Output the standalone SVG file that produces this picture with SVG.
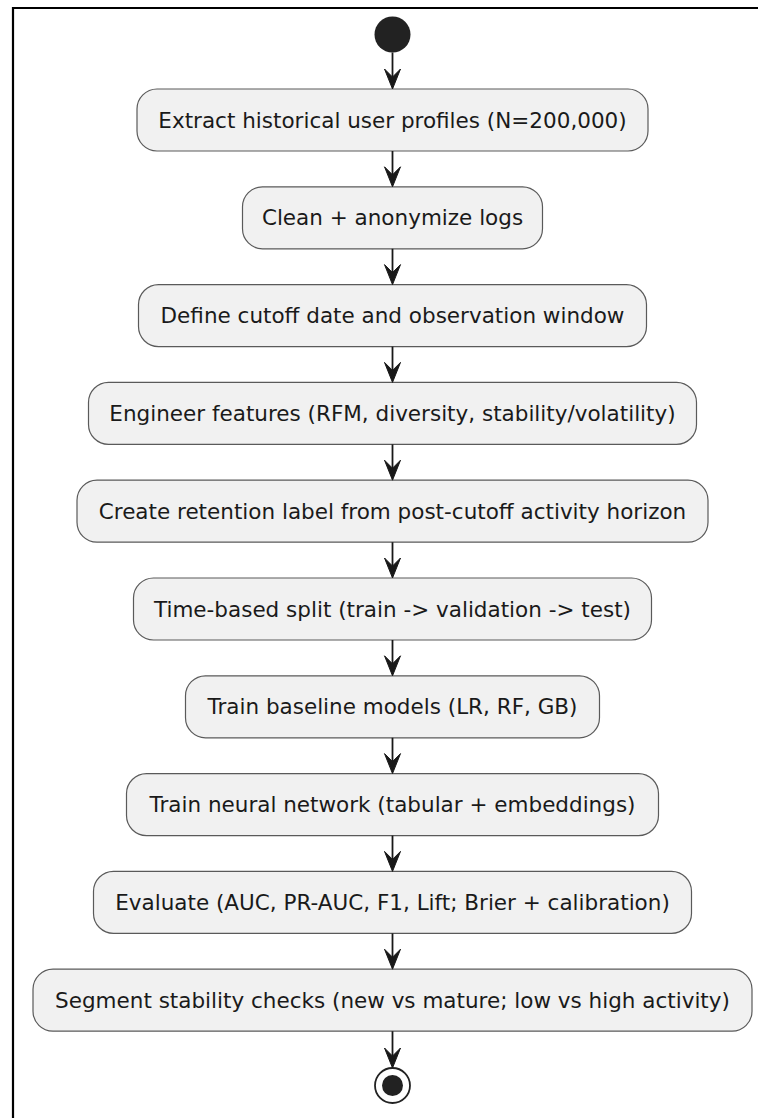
<svg xmlns="http://www.w3.org/2000/svg" width="758" height="1118" viewBox="0 0 758 1118">
<style>
.box{fill:#F1F1F1;stroke:#5a5a5a;stroke-width:1.2;}
.lbl{font-family:"DejaVu Sans",sans-serif;font-size:21.5px;fill:#1a1a1a;text-anchor:middle;}
.edge{stroke:#181818;stroke-width:1.8;fill:none;}
.head{fill:#181818;stroke:#181818;stroke-width:1;}
</style>
<defs>
<polygon id="ah" class="head" points="0,0 -8,-20 0,-12 8,-20"/>
</defs>
<rect width="758" height="1118" fill="#fff"/>
<path d="M13,1118 V8 H758" fill="none" stroke="#000" stroke-width="2.2"/>
<g id="start"><circle cx="392.5" cy="34.5" r="18" fill="#222"/></g>
<g id="n1"><rect class="box" x="137" y="89" width="511" height="62" rx="20"/><text class="lbl" x="392.5" y="127.5">Extract historical user profiles (N=200,000)</text></g>
<g id="n2"><rect class="box" x="242.5" y="186.8" width="300" height="62" rx="20"/><text class="lbl" x="392.5" y="225.3">Clean + anonymize logs</text></g>
<g id="n3"><rect class="box" x="138.5" y="284.6" width="508" height="62" rx="20"/><text class="lbl" x="392.5" y="323.1">Define cutoff date and observation window</text></g>
<g id="n4"><rect class="box" x="88.5" y="382.4" width="608" height="62" rx="20"/><text class="lbl" x="392.5" y="420.9">Engineer features (RFM, diversity, stability/volatility)</text></g>
<g id="n5"><rect class="box" x="77" y="480.2" width="631" height="62" rx="20"/><text class="lbl" x="392.5" y="518.7">Create retention label from post-cutoff activity horizon</text></g>
<g id="n6"><rect class="box" x="133.5" y="578" width="518" height="62" rx="20"/><text class="lbl" x="392.5" y="616.5">Time-based split (train -&gt; validation -&gt; test)</text></g>
<g id="n7"><rect class="box" x="185.5" y="675.8" width="414" height="62" rx="20"/><text class="lbl" x="392.5" y="714.3">Train baseline models (LR, RF, GB)</text></g>
<g id="n8"><rect class="box" x="126.5" y="773.6" width="532" height="62" rx="20"/><text class="lbl" x="392.5" y="812.1">Train neural network (tabular + embeddings)</text></g>
<g id="n9"><rect class="box" x="93.5" y="871.4" width="598" height="62" rx="20"/><text class="lbl" x="392.5" y="909.9">Evaluate (AUC, PR-AUC, F1, Lift; Brier + calibration)</text></g>
<g id="n10"><rect class="box" x="33" y="969.2" width="719" height="62" rx="20"/><text class="lbl" x="392.5" y="1007.7">Segment stability checks (new vs mature; low vs high activity)</text></g>
<g id="end"><circle cx="392.5" cy="1085.5" r="17.5" fill="#fff" stroke="#222" stroke-width="1.8"/><circle cx="392.5" cy="1085.5" r="10.5" fill="#222"/></g>
<g id="connectors">
<line class="edge" x1="392.5" y1="52.5" x2="392.5" y2="80"/><use href="#ah" x="392.5" y="89"/>
<line class="edge" x1="392.5" y1="151" x2="392.5" y2="178"/><use href="#ah" x="392.5" y="186.8"/>
<line class="edge" x1="392.5" y1="248.8" x2="392.5" y2="276"/><use href="#ah" x="392.5" y="284.6"/>
<line class="edge" x1="392.5" y1="346.6" x2="392.5" y2="374"/><use href="#ah" x="392.5" y="382.4"/>
<line class="edge" x1="392.5" y1="444.4" x2="392.5" y2="471"/><use href="#ah" x="392.5" y="480.2"/>
<line class="edge" x1="392.5" y1="542.2" x2="392.5" y2="569"/><use href="#ah" x="392.5" y="578"/>
<line class="edge" x1="392.5" y1="640" x2="392.5" y2="667"/><use href="#ah" x="392.5" y="675.8"/>
<line class="edge" x1="392.5" y1="737.8" x2="392.5" y2="765"/><use href="#ah" x="392.5" y="773.6"/>
<line class="edge" x1="392.5" y1="835.6" x2="392.5" y2="863"/><use href="#ah" x="392.5" y="871.4"/>
<line class="edge" x1="392.5" y1="933.4" x2="392.5" y2="961"/><use href="#ah" x="392.5" y="969.2"/>
<line class="edge" x1="392.5" y1="1031.2" x2="392.5" y2="1059"/><use href="#ah" x="392.5" y="1068"/>
</g>
</svg>
